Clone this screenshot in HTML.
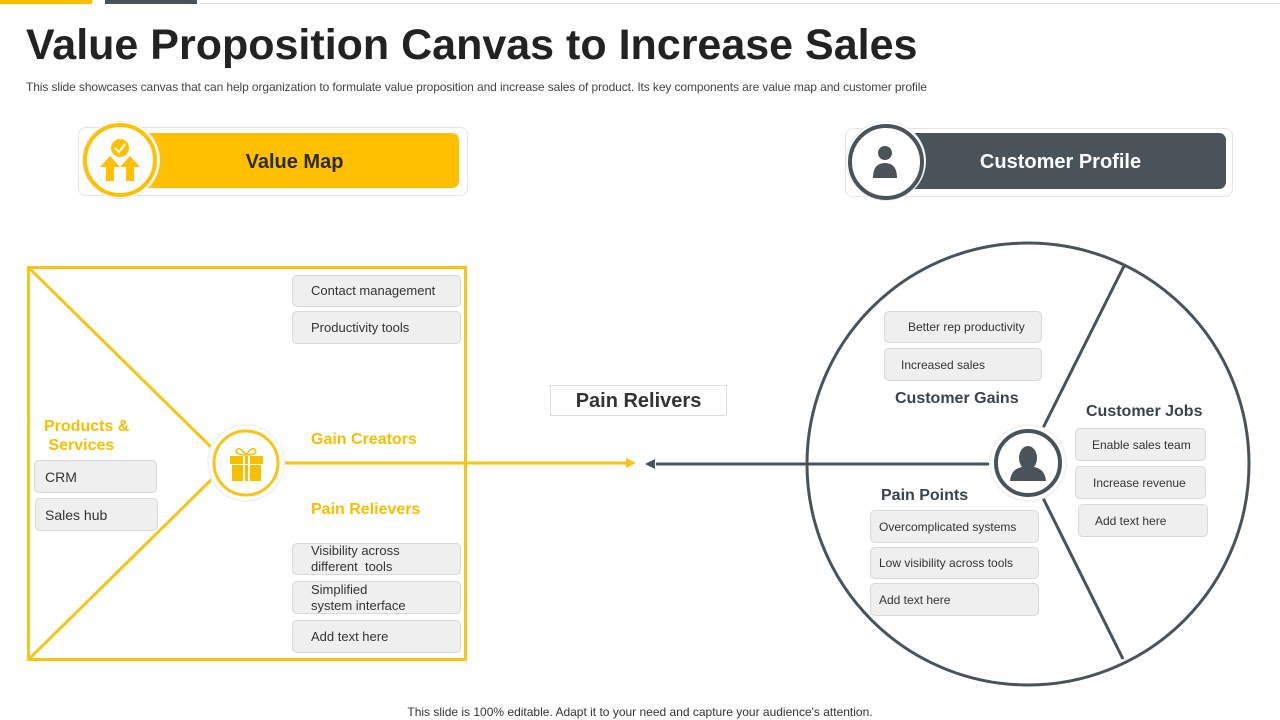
<!DOCTYPE html>
<html><head><meta charset="utf-8"><style>
body{margin:0;width:1280px;height:720px;background:#fff;position:relative;overflow:hidden;font-family:"Liberation Sans",sans-serif}
.a{position:absolute}
.bx{position:absolute;background:#efefef;border:1px solid #d9d9d9;border-radius:5px;box-sizing:border-box;font-size:13px;color:#333;padding-left:18px;display:flex;align-items:center;line-height:16px}
.y{color:#f5c000;font-weight:bold;font-size:16px}
.d{color:#3a434a;font-weight:bold;font-size:16px}
</style></head><body>
<div class="a" style="left:0;top:0;width:92px;height:4px;background:#ffc000"></div>
<div class="a" style="left:105px;top:0;width:92px;height:4px;background:#4a5359"></div>
<div class="a" style="left:200px;top:3px;width:1080px;height:1px;background:#ddd"></div>
<div class="a" style="left:26px;top:21px;font-size:43px;font-weight:bold;color:#222">Value Proposition Canvas to Increase Sales</div>
<div class="a" style="left:26px;top:80px;font-size:12px;letter-spacing:-0.1px;color:#444">This slide showcases canvas that can help organization to formulate value proposition and increase sales of product. Its key components are value map and customer profile</div>

<div class="a" style="left:78px;top:127px;width:388px;height:67px;border:1px solid #e5e5e5;border-radius:8px"></div>
<div class="a" style="left:140px;top:133px;width:319px;height:55px;background:#ffc000;border-radius:7px;font-size:20px;font-weight:bold;color:#2a2a2a;display:flex;align-items:center;justify-content:center;padding-top:3px;box-sizing:border-box"><span style="margin-left:-10px">Value Map</span></div>
<div class="a" style="left:82px;top:121px;width:76px;height:76px;border-radius:50%;background:#fff;border:1px solid #eee"></div>
<div class="a" style="left:83px;top:123px;width:66px;height:66px;border-radius:50%;border:4px solid #ffc000;background:#fff"></div>
<svg class="a" style="left:0;top:0" width="1280" height="720">
<g fill="#ffc000"><circle cx="120" cy="148" r="9"/><polygon points="100,167 110,156 120,167 114,167 114,181 106,181 106,167"/><polygon points="120,167 130,156 140,167 134,167 134,181 126,181 126,167"/></g>
<polyline points="115,148 119,152 125,144" stroke="#fff" stroke-width="2" fill="none"/>
</svg>

<div class="a" style="left:845px;top:128px;width:386px;height:67px;border:1px solid #e5e5e5;border-radius:8px"></div>
<div class="a" style="left:900px;top:133px;width:326px;height:56px;background:#4a5359;border-radius:7px;font-size:20px;font-weight:bold;color:#fff;display:flex;align-items:center;justify-content:center;padding-top:3px;box-sizing:border-box"><span style="margin-left:-5px">Customer Profile</span></div>
<div class="a" style="left:846px;top:121px;width:78px;height:78px;border-radius:50%;background:#fff;border:1px solid #eee"></div>
<div class="a" style="left:848px;top:124px;width:68px;height:68px;border-radius:50%;border:4px solid #4a5359;background:#fff"></div>

<svg class="a" style="left:0;top:0" width="1280" height="720">
<g fill="#4a5359"><circle cx="885" cy="153" r="7"/><path d="M873 178 Q873 163 885 163 Q897 163 897 178Z"/></g>
<rect x="28.5" y="267.5" width="437" height="392" fill="none" stroke="#f5c518" stroke-width="3"/>
<line x1="29" y1="268" x2="212" y2="448" stroke="#f5c518" stroke-width="3"/>
<line x1="29" y1="659" x2="212" y2="479" stroke="#f5c518" stroke-width="3"/>
<line x1="280" y1="463" x2="628" y2="463" stroke="#f5c518" stroke-width="3"/>
<polygon points="636,463 626,458 626,468" fill="#f5c518"/>
<line x1="656" y1="464" x2="994" y2="464" stroke="#4a5359" stroke-width="3"/>
<polygon points="645,464 655,459 655,469" fill="#4a5359"/>
<circle cx="1028" cy="464" r="221" fill="none" stroke="#4a5359" stroke-width="3"/>
<line x1="1043" y1="428" x2="1124" y2="266" stroke="#4a5359" stroke-width="3"/>
<line x1="1043" y1="498" x2="1123" y2="659" stroke="#4a5359" stroke-width="3"/>
<circle cx="246" cy="463" r="38" fill="#fff" stroke="#f3f3f3" stroke-width="2"/>
<circle cx="246" cy="463" r="32" fill="#fff" stroke="#f5c518" stroke-width="3"/>
<g fill="#f5c000"><rect x="230" y="456" width="33" height="8"/><rect x="232" y="465" width="29" height="16"/></g>
<g stroke="#fff" stroke-width="2"><line x1="244" y1="456" x2="244" y2="481"/><line x1="249" y1="456" x2="249" y2="481"/></g>
<path d="M246 455 Q238 444 236 452 Q238 455 246 455 Q254 444 256 452 Q254 455 246 455" fill="none" stroke="#f5c000" stroke-width="1.5"/>
<circle cx="1028" cy="463" r="38" fill="#fff" stroke="#f3f3f3" stroke-width="2"/>
<circle cx="1028" cy="463" r="32" fill="#fff" stroke="#4a5359" stroke-width="4"/>
<g fill="#4a5359"><ellipse cx="1028" cy="458" rx="9" ry="12"/><path d="M1010 481 Q1011 469 1022 467 L1034 467 Q1045 469 1046 481Z"/></g>
</svg>

<div class="bx" style="left:292px;top:275px;width:169px;height:32px">Contact management</div>
<div class="bx" style="left:292px;top:311px;width:169px;height:33px">Productivity tools</div>
<div class="a y" style="left:44px;top:417px;line-height:19px">Products &amp;<br>&nbsp;Services</div>
<div class="bx" style="left:34px;top:460px;width:123px;height:33px;padding-left:10px;font-size:14px">CRM</div>
<div class="bx" style="left:35px;top:498px;width:123px;height:33px;padding-left:9px;font-size:14px">Sales hub</div>
<div class="a y" style="left:311px;top:431px">Gain Creators</div>
<div class="a y" style="left:311px;top:501px">Pain Relievers</div>
<div class="bx" style="left:292px;top:543px;width:169px;height:32px">Visibility across<br>different&nbsp; tools</div>
<div class="bx" style="left:292px;top:581px;width:169px;height:33px">Simplified<br>system interface</div>
<div class="bx" style="left:292px;top:620px;width:169px;height:33px">Add text here</div>

<div class="a" style="left:550px;top:385px;width:177px;height:31px;border:1px solid #ddd;box-sizing:border-box;font-size:20px;font-weight:bold;color:#333;text-align:center;line-height:31px">Pain Relivers</div>

<div class="bx" style="left:884px;top:311px;width:158px;height:32px;padding-left:23px;font-size:12px">Better rep productivity</div>
<div class="bx" style="left:884px;top:348px;width:158px;height:33px;padding-left:16px;font-size:12px">Increased sales</div>
<div class="a d" style="left:895px;top:390px">Customer Gains</div>
<div class="a d" style="left:1086px;top:403px">Customer Jobs</div>
<div class="bx" style="left:1075px;top:428px;width:131px;height:33px;padding-left:16px;font-size:12px">Enable sales team</div>
<div class="bx" style="left:1075px;top:466px;width:131px;height:33px;padding-left:17px;font-size:12px">Increase revenue</div>
<div class="bx" style="left:1078px;top:504px;width:130px;height:33px;padding-left:16px;font-size:12px">Add text here</div>
<div class="a d" style="left:881px;top:487px">Pain Points</div>
<div class="bx" style="left:870px;top:510px;width:169px;height:33px;padding-left:8px;font-size:12px">Overcomplicated systems</div>
<div class="bx" style="left:870px;top:547px;width:169px;height:32px;padding-left:8px;font-size:12px">Low visibility across tools</div>
<div class="bx" style="left:870px;top:583px;width:169px;height:33px;padding-left:8px;font-size:12px">Add text here</div>

<div class="a" style="left:0;width:1280px;top:705px;text-align:center;font-size:12px;color:#333">This slide is 100% editable. Adapt it to your need and capture your audience's attention.</div>
</body></html>
